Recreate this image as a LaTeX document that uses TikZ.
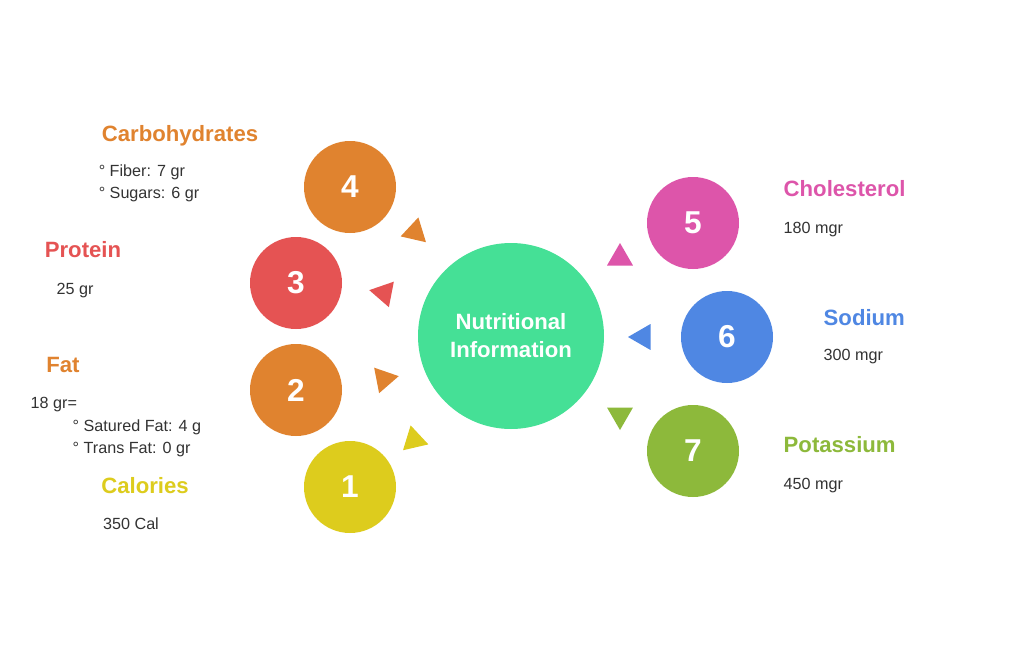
\documentclass[tikz,border=0pt]{standalone}
\usepackage{fontspec}
\setmainfont{Liberation Sans}
\usetikzlibrary{shapes.geometric}
\definecolor{corange}{HTML}{E0832F}
\definecolor{cred}{HTML}{E55353}
\definecolor{cyellow}{HTML}{DDCC1D}
\definecolor{cpink}{HTML}{DD55AA}
\definecolor{cblue}{HTML}{4F87E3}
\definecolor{cgreen}{HTML}{8DB93B}
\definecolor{cmint}{HTML}{45E096}
\definecolor{ctext}{HTML}{333333}
\tikzset{
  item/.style   = { circle, fill=#1, minimum size=0.92cm, inner sep=0pt, text=white, font=\fontsize{9}{10}\selectfont\bfseries },
  hub/.style    = { circle, fill=cmint, minimum size=1.86cm, inner sep=0pt, text=white, align=center, font=\fontsize{6.3}{8}\selectfont\bfseries },
  pointer/.style= { regular polygon, regular polygon sides=3, fill=#1, minimum size=0.3cm, inner sep=0pt },
  title/.style  = { text=#1, font=\fontsize{6.3}{7}\selectfont\bfseries, inner sep=0pt },
  info/.style   = { text=ctext, font=\fontsize{4.6}{6.2}\selectfont, inner sep=0pt, align=left }
}
\begin{document}
\begin{tikzpicture}[yscale=-1]
    \useasboundingbox[fill=white] (0,0) rectangle (10.24,6.61);
    \node[hub] (hub) at (5.11,3.36) {Nutritional\\Information};

    \node[item=cyellow] (n1) at (3.50,4.87) {1};
    \node[item=corange] (n2) at (2.96,3.90) {2};
    \node[item=cred]    (n3) at (2.96,2.83) {3};
    \node[item=corange] (n4) at (3.50,1.87) {4};
    \node[item=cpink]   (n5) at (6.93,2.23) {5};
    \node[item=cblue]   (n6) at (7.27,3.37) {6};
    \node[item=cgreen]  (n7) at (6.93,4.51) {7};

    \node[pointer=cyellow, rotate=-47+180] (p1) at (4.14,4.40) {};
    \node[pointer=corange, rotate=-19+180] (p2) at (3.84,3.79) {};
    \node[pointer=cred,    rotate=19+180]  (p3) at (3.84,2.93) {};
    \node[pointer=corange, rotate=47+180]  (p4) at (4.15,2.32) {};
    \node[pointer=cpink]                   (p5) at (6.20,2.58) {};
    \node[pointer=cblue,   rotate=90]      (p6) at (6.43,3.37) {};
    \node[pointer=cgreen,  rotate=180]     (p7) at (6.20,4.15) {};

    \node[title=corange] (tcarb) at (1.80,1.36) {Carbohydrates};
    \node[info, anchor=east] (icarb) at (2.00,1.83) {° Fiber: 7 gr\\° Sugars: 6 gr};
    \node[title=cred] (tprot) at (0.83,2.50) {Protein};
    \node[info] (iprot) at (0.75,2.91) {25 gr};
    \node[title=corange] (tfat) at (0.63,3.65) {Fat};
    \node[info, anchor=west] (ifat) at (0.30,4.05) {18 gr=};
    \node[info, anchor=north west] (ifat2) at (0.72,4.19) {° Satured Fat: 4 g\\° Trans Fat: 0 gr};
    \node[title=cyellow] (tcal) at (1.45,4.86) {Calories};
    \node[info] (ical) at (1.31,5.24) {350 Cal};

    \node[title=cpink, anchor=west] (tchol) at (7.83,1.89) {Cholesterol};
    \node[info, anchor=west] (ichol) at (7.83,2.30) {180 mgr};
    \node[title=cblue, anchor=west] (tsod) at (8.23,3.18) {Sodium};
    \node[info, anchor=west] (isod) at (8.23,3.57) {300 mgr};
    \node[title=cgreen, anchor=west] (tpot) at (7.83,4.45) {Potassium};
    \node[info, anchor=west] (ipot) at (7.83,4.86) {450 mgr};
\end{tikzpicture}
\end{document}
